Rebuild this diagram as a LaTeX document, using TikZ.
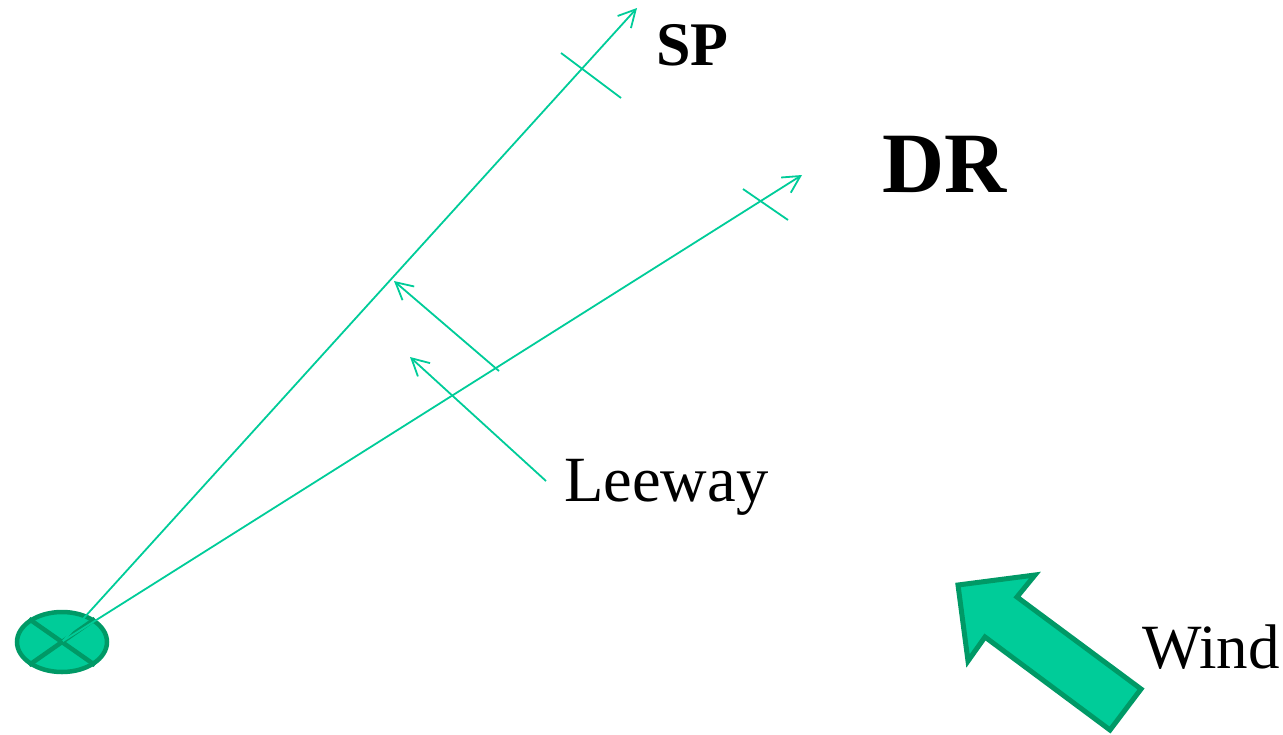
\documentclass[tikz,border=0pt]{standalone}
\usepackage{fontspec}
\setmainfont{Liberation Serif}
\usetikzlibrary{arrows.meta,shapes.geometric}
\definecolor{lineg}{RGB}{0,204,153}
\definecolor{darkg}{RGB}{0,153,102}
\tikzset{
  course/.style={draw=lineg, line width=1.8pt, -{Straight Barb[length=17pt,width=18pt,line width=1.8pt]}},
  tick/.style={draw=lineg, line width=1.8pt},
  lbl/.style={inner sep=0pt, anchor=base west, text=black},
  buoystyle/.style={ellipse, draw=darkg, fill=lineg, line width=4.5pt, inner sep=0pt, minimum width=90pt, minimum height=60pt},
  crossline/.style={draw=darkg, line width=4.5pt},
  windarrow/.style={draw=darkg, fill=lineg, line width=5pt, line join=miter}
}
\begin{document}
\begin{tikzpicture}[x=1pt,y=-1pt]
\useasboundingbox (0,0) rectangle (1283,734);
% buoy
\node[buoystyle] (buoy) at (62,642) {};
\draw[crossline] (buoy.145) -- (buoy.325);
\draw[crossline] (buoy.35) -- (buoy.215);
% courses
\coordinate (O) at (63,641);
\coordinate (SPtip) at (637,8);
\coordinate (DRtip) at (802,175);
\draw[course] (O) -- (SPtip);
\draw[course] (O) -- (DRtip);
% ticks
\coordinate (t1a) at (561,53); \coordinate (t1b) at (621,98);
\coordinate (t2a) at (743,189); \coordinate (t2b) at (788,220);
\draw[tick] (t1a) -- (t1b);
\draw[tick] (t2a) -- (t2b);
% leeway arrows
\coordinate (L1tail) at (499,371); \coordinate (L1tip) at (394,281);
\coordinate (L2tail) at (546,481); \coordinate (L2tip) at (410,357);
\draw[course] (L1tail) -- (L1tip);
\draw[course] (L2tail) -- (L2tip);
% wind arrow
\draw[windarrow] (958,585) -- (1035,575) -- (1017,597) -- (1141,689) -- (1110,730) -- (985,637) -- (968,661) -- cycle;
% labels
\node[lbl] (sp) at (656,65) {\fontsize{62}{70}\selectfont\bfseries SP};
\node[lbl] (dr) at (882,192) {\fontsize{86}{96}\selectfont\bfseries DR};
\node[lbl] (lee) at (564,501) {\fontsize{64.5}{72}\selectfont Leeway};
\node[lbl] (wind) at (1142,668) {\fontsize{63}{72}\selectfont Wind};
\end{tikzpicture}
\end{document}
